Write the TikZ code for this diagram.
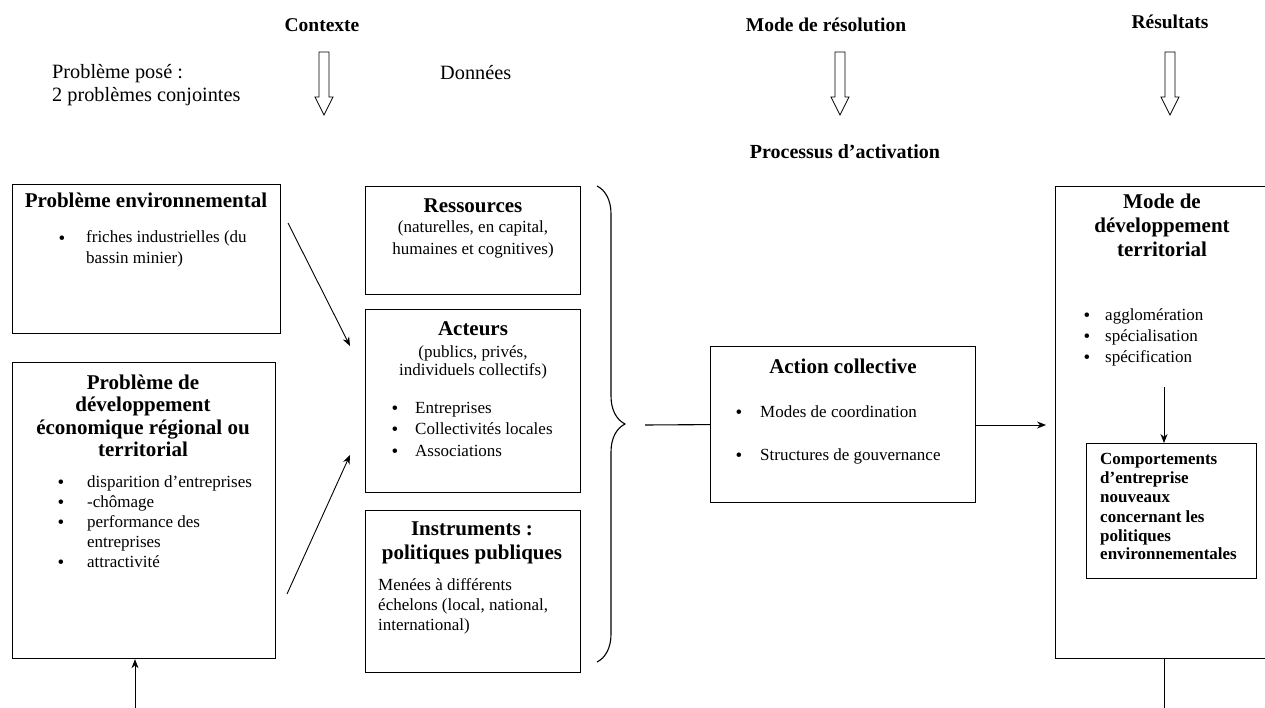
\documentclass[tikz,border=0pt]{standalone}
\usepackage{fontspec}
\setmainfont{Liberation Serif}
\usetikzlibrary{arrows.meta,decorations.pathreplacing}
\begin{document}
\begin{tikzpicture}[x=1pt,y=-1pt,
 box/.style={draw,line width=1.2pt,inner sep=0pt,anchor=north west},
 ttl/.style={font=\fontsize{21}{23}\selectfont\bfseries,inner sep=0pt,anchor=base},
 ctl/.style={font=\fontsize{17}{20}\selectfont\bfseries,inner sep=0pt,anchor=base west},
 txt/.style={font=\fontsize{17}{20}\selectfont,inner sep=0pt,anchor=base west},
 ctxt/.style={font=\fontsize{17}{20}\selectfont,inner sep=0pt,anchor=base},
 bul/.style={font=\fontsize{19}{20}\selectfont,inner sep=0pt,anchor=base,yshift=-1.5pt},
 toplab/.style={font=\fontsize{19.5}{22}\selectfont\bfseries,inner sep=0pt,anchor=base},
 toptxt/.style={font=\fontsize{20.3}{23}\selectfont,inner sep=0pt,anchor=base west},
 arr/.style={-{Stealth[length=9pt,width=7pt]},line width=0.9pt},
 ln/.style={line width=1.1pt},
 hollow/.style={draw,line width=0.8pt,fill=white}]
\clip (0,0) rectangle (1265,708);
\fill[white] (0,0) rectangle (1265,708);

% top labels
\node[toplab] (ctx) at (322,32) {Contexte};
\node[toplab] (mres) at (826,32) {Mode de résolution};
\node[toplab] (res) at (1170,29) {Résultats};
\node[toptxt] (pp1) at (52,79) {Problème posé :};
\node[toptxt] (pp2) at (52,102) {2 problèmes conjointes};
\node[toptxt] (don) at (440,80) {Données};
\node[toplab,font=\fontsize{20}{22}\selectfont\bfseries] (proc) at (845,159) {Processus d’activation};

% hollow arrows
\foreach \ax in {324,840,1170}{
  \draw[hollow] (\ax-5,52) -- (\ax+5,52) -- (\ax+5,97) -- (\ax+9,97) -- (\ax,115) -- (\ax-9,97) -- (\ax-5,97) -- cycle;
}

% boxes
\node[box,minimum width=268pt,minimum height=149pt] (env) at (12,184) {};
\node[box,minimum width=263pt,minimum height=296pt] (dev) at (12,362) {};
\node[box,minimum width=215pt,minimum height=108pt] (ress) at (365,186) {};
\node[box,minimum width=215pt,minimum height=183pt] (act) at (365,309) {};
\node[box,minimum width=215pt,minimum height=162pt] (inst) at (365,510) {};
\node[box,minimum width=265pt,minimum height=156pt] (acol) at (710,346) {};
\node[box,minimum width=230pt,minimum height=472pt] (mdev) at (1055,186) {};
\node[box,minimum width=170pt,minimum height=135pt] (comp) at (1086,443) {};

% env box text
\node[ttl] (envt) at (146,208) {Problème environnemental};
\node[bul] (envb1) at (62,243) {•};
\node[txt] (env1) at (86,243) {friches industrielles (du};
\node[txt] (env2) at (86,264) {bassin minier)};

% dev box text
\node[ttl] (devt1) at (143,389) {Problème de};
\node[ttl] (devt2) at (143,411) {développement};
\node[ttl] (devt3) at (143,434) {économique régional ou};
\node[ttl] (devt4) at (143,456) {territorial};
\node[bul] (devb1) at (61,487) {•};
\node[bul] (devb2) at (61,507) {•};
\node[bul] (devb3) at (61,527) {•};
\node[bul] (devb4) at (61,567) {•};
\node[txt] (dev1) at (87,487) {disparition d’entreprises};
\node[txt] (dev2) at (87,507) {-chômage};
\node[txt] (dev3) at (87,527) {performance des};
\node[txt] (dev4) at (87,547) {entreprises};
\node[txt] (dev5) at (87,567) {attractivité};

% ressources
\node[ttl] (resst) at (473,213) {Ressources};
\node[ctxt] (ress1) at (473,233) {(naturelles, en capital,};
\node[ctxt] (ress2) at (473,255) {humaines et cognitives)};

% acteurs
\node[ttl] (actt) at (473,335) {Acteurs};
\node[ctxt] (act1) at (473,357) {(publics, privés,};
\node[ctxt] (act2) at (473,375) {individuels collectifs)};
\node[bul] (actb1) at (395,413) {•};
\node[bul] (actb2) at (395,434) {•};
\node[bul] (actb3) at (395,456) {•};
\node[txt] (act3) at (415,413) {Entreprises};
\node[txt] (act4) at (415,434) {Collectivités locales};
\node[txt] (act5) at (415,456) {Associations};

% instruments
\node[ttl] (instt1) at (472,535) {Instruments :};
\node[ttl] (instt2) at (472,559) {politiques publiques};
\node[txt] (inst1) at (378,590) {Menées à différents};
\node[txt] (inst2) at (378,610) {échelons (local, national,};
\node[txt] (inst3) at (378,630) {international)};

% brace
\draw[ln,decorate,decoration={brace,amplitude=28pt}] (597,186) -- (597,662);
\coordinate (btip) at (645,425);

% action collective
\node[ttl] (acolt) at (843,373) {Action collective};
\node[bul] (acolb1) at (739,417) {•};
\node[bul] (acolb2) at (739,460) {•};
\node[txt] (acol1) at (760,417) {Modes de coordination};
\node[txt] (acol2) at (760,460) {Structures de gouvernance};

% mode de developpement
\node[ttl] (mdevt1) at (1162,209) {Mode de};
\node[ttl] (mdevt2) at (1162,233) {développement};
\node[ttl] (mdevt3) at (1162,257) {territorial};
\node[bul] (mdevb1) at (1087,320) {•};
\node[bul] (mdevb2) at (1087,341) {•};
\node[bul] (mdevb3) at (1087,362) {•};
\node[txt] (mdev1) at (1105,320) {agglomération};
\node[txt] (mdev2) at (1105,341) {spécialisation};
\node[txt] (mdev3) at (1105,362) {spécification};
\coordinate (inA) at (1164,387);

% comportements
\node[ctl] (comp1) at (1100,464) {Comportements};
\node[ctl] (comp2) at (1100,483) {d'entreprise};
\node[ctl] (comp3) at (1100,502) {nouveaux};
\node[ctl] (comp4) at (1100,522) {concernant les};
\node[ctl] (comp5) at (1100,541) {politiques};
\node[ctl] (comp6) at (1100,559) {environnementales};

% connectors
\coordinate (e1) at (288,223);
\coordinate (e2) at (350,346);
\coordinate (d1) at (287,594);
\coordinate (d2) at (350,455);
\draw[arr] (e1) -- (e2);
\draw[arr] (d1) -- (d2);
\coordinate (botL) at (135,708);
\draw[arr] (botL) -- (dev.south -| botL);
\draw[ln] (btip) -- (acol.west);
\coordinate (arrE) at (1046,425);
\draw[arr] (acol.east |- arrE) -- (arrE);
\draw[arr] (inA) -- (comp.north -| inA);
\coordinate (botR) at (1164.5,708);
\draw[ln] (mdev.south -| botR) -- (botR);
\end{tikzpicture}
\end{document}
